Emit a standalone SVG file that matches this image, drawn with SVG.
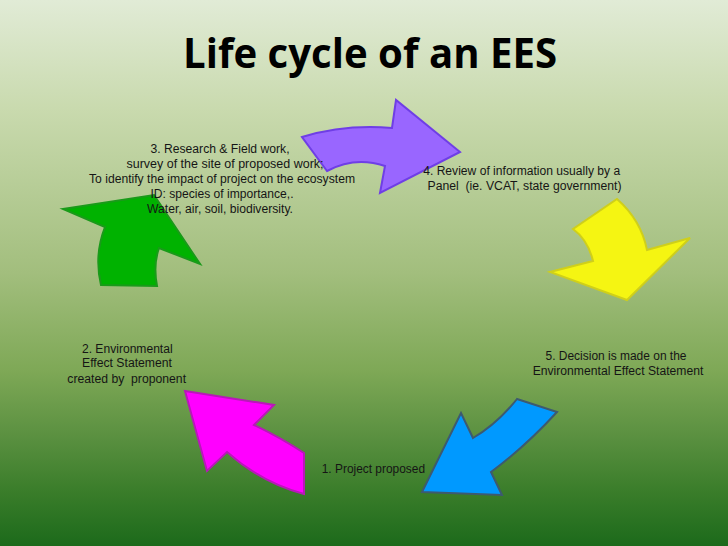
<svg xmlns="http://www.w3.org/2000/svg" width="728" height="546" viewBox="0 0 728 546">
<defs>
<linearGradient id="bg" x1="0" y1="0" x2="0" y2="1">
<stop offset="0" stop-color="#e1ebd6"/>
<stop offset="0.2" stop-color="#c9daae"/>
<stop offset="0.5" stop-color="#a2be7d"/>
<stop offset="0.68" stop-color="#7ea856"/>
<stop offset="0.8" stop-color="#5a9040"/>
<stop offset="0.9" stop-color="#3a7d2a"/>
<stop offset="1" stop-color="#1c6a1b"/>
</linearGradient>
<style>
.t{font-family:"Liberation Sans",Arial,sans-serif;font-size:12.5px;fill:#151515;text-anchor:middle;white-space:pre}
.title{font-family:"Open Sans","Liberation Sans",sans-serif;font-weight:bold;font-size:42px;fill:#000;text-anchor:middle}
.ar{stroke-width:2;stroke-linejoin:miter}
</style>
</defs>
<rect width="728" height="546" fill="url(#bg)"/>
<text class="title" x="370" y="68" textLength="374" lengthAdjust="spacingAndGlyphs">Life cycle of an EES</text>
<g id="connectors">
<path id="arrow-purple" class="ar" fill="#9966ff" stroke="#6f3ee6" d="M302,137 Q345,124 392,128 L396,100 L460,152 L380,193 L385,166 Q355,156 327,171 Z"/>
<path id="arrow-yellow" class="ar" fill="#f5f512" stroke="#cfcf1a" d="M617,199 Q641,220 647,250 L690,238 L627,300 L550,272 L593,261 Q588,240 573,229 Z"/>
<path id="arrow-blue" class="ar" fill="#0099ff" stroke="#3d5a70" d="M517,399 L557,412 Q526,446 491,472 L502,495 L422,492 L461,413 L473,438 Q497,424 517,399 Z"/>
<path id="arrow-magenta" class="ar" fill="#ff00ff" stroke="#b818b8" d="M185,391 L274,405 L254,425 Q281,438 304,453 L304,494 Q262,483 227,452 L207,471 Z"/>
<path id="arrow-green" class="ar" fill="#00b200" stroke="#1a9a1a" d="M63,209 L154,195 L200,264 L159,248 Q153,265 157,286 L101,285 Q94,255 105,227 Z"/>
</g>
<g id="node-3">
<text class="t" x="220" y="153" textLength="139" lengthAdjust="spacingAndGlyphs">3. Research &amp; Field work,</text>
<text class="t" x="225" y="167.5" textLength="197" lengthAdjust="spacingAndGlyphs">survey of the site of proposed work;</text>
<text class="t" x="222" y="183" textLength="266" lengthAdjust="spacingAndGlyphs">To identify the impact of project on the ecosystem</text>
<text class="t" x="222" y="197.5" textLength="143" lengthAdjust="spacingAndGlyphs">ID: species of importance,.</text>
<text class="t" x="220" y="212.5" textLength="146" lengthAdjust="spacingAndGlyphs">Water, air, soil, biodiversity.</text>
</g>
<g id="node-4">
<text class="t" x="521.7" y="175" textLength="197" lengthAdjust="spacingAndGlyphs">4. Review of information usually by a</text>
<text class="t" x="524.5" y="189.5" textLength="194" lengthAdjust="spacingAndGlyphs" xml:space="preserve">Panel  (ie. VCAT, state government)</text>
</g>
<g id="node-5">
<text class="t" x="616" y="360" textLength="141" lengthAdjust="spacingAndGlyphs">5. Decision is made on the</text>
<text class="t" x="618" y="375" textLength="170.6" lengthAdjust="spacingAndGlyphs">Environmental Effect Statement</text>
</g>
<g id="node-2">
<text class="t" x="127.3" y="352.7" textLength="90.7" lengthAdjust="spacingAndGlyphs">2. Environmental</text>
<text class="t" x="127" y="367.3" textLength="90" lengthAdjust="spacingAndGlyphs">Effect Statement</text>
<text class="t" x="126.7" y="382.7" textLength="118.7" lengthAdjust="spacingAndGlyphs" xml:space="preserve">created by  proponent</text>
</g>
<g id="node-1">
<text class="t" x="373.4" y="473.3" textLength="103.3" lengthAdjust="spacingAndGlyphs">1. Project proposed</text>
</g>
</svg>
